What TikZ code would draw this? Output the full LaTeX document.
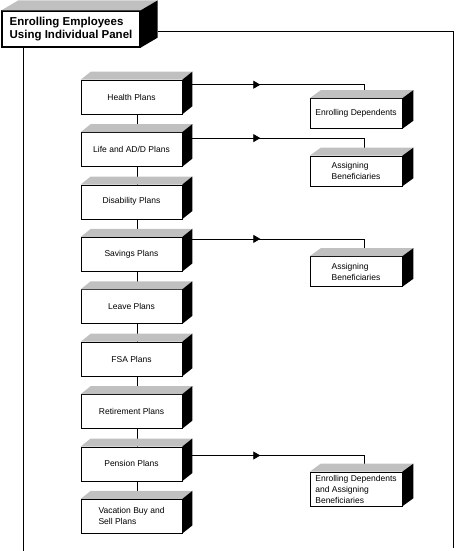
\documentclass[tikz,border=0pt]{standalone}
\usepackage{fontspec}
\setmainfont{Liberation Sans}
\usepackage{xcolor}
\usepackage{tikz}
\usetikzlibrary{calc,arrows.meta,decorations.markings,backgrounds}
\definecolor{topgray}{HTML}{C0C0C0}
\definecolor{sidegray}{HTML}{000000}

% gray top and black side of a box: node, depth x, depth y
\newcommand{\boxfaces}[3]{%
  \fill[topgray] (#1.north west) -- ([shift={(#2,-#3)}]#1.north west)
    -- ([shift={(#2,-#3)}]#1.north east) -- (#1.north east) -- cycle;
  \fill[sidegray] (#1.north east) -- ([shift={(#2,-#3)}]#1.north east)
    -- ([shift={(#2,-#3)}]#1.south east) -- (#1.south east) -- cycle;}

\tikzset{
  headbox/.style={draw,line width=1.3pt,fill=white,minimum width=138pt,minimum height=36pt,
    inner sep=0pt,align=left,font=\bfseries\fontsize{11.5}{13}\selectfont},
  plan/.style={draw,line width=0.6pt,fill=white,minimum width=101pt,minimum height=34pt,
    inner sep=0pt,align=left,font=\fontsize{8.5}{11}\selectfont},
  task/.style={plan,minimum width=92pt,minimum height=30pt},
  link/.style={line width=0.8pt},
  flowlink/.style={link,postaction={decorate},decoration={markings,
    mark=at position 68pt with {\arrow{Triangle[length=7pt,width=8pt]}}}}
}

\begin{document}
\begin{tikzpicture}[x=1pt,y=-1pt]
  \useasboundingbox (0,0) rectangle (455,551);

  % Panel box
  \node[headbox] (panel) at (71,29) {Enrolling Employees\\Using Individual Panel};
  \boxfaces{panel}{17}{10}

  % Plan boxes
  \node[plan] (health) at (131.5,97) {Health Plans};
  \node[plan] (life) at (131.5,149.4) {Life and AD/D Plans};
  \node[plan] (disability) at (131.5,201.8) {Disability Plans};
  \node[plan] (savings) at (131.5,254.2) {Savings Plans};
  \node[plan] (leave) at (131.5,306.6) {Leave Plans};
  \node[plan] (fsa) at (131.5,359) {FSA Plans};
  \node[plan] (retirement) at (131.5,411.4) {Retirement Plans};
  \node[plan] (pension) at (131.5,463.8) {Pension Plans};
  \node[plan] (vacation) at (131.5,516.2) {Vacation Buy and\\Sell Plans};
  \foreach \n in {health,life,disability,savings,leave,fsa,retirement,pension,vacation}
    {\boxfaces{\n}{10}{8}}

  % Task boxes
  \node[task] (dependents) at (356,113.5) {Enrolling Dependents};
  \node[task] (beneficiaries) at (356,171) {Assigning\\Beneficiaries};
  \node[task] (savingsben) at (356,271.5) {Assigning\\Beneficiaries};
  \node[task,minimum height=34pt] (pensionben) at (356,489) {Enrolling Dependents\\and Assigning\\Beneficiaries};
  \foreach \n in {dependents,beneficiaries,savingsben,pensionben}
    {\boxfaces{\n}{11}{8}}

  % Frame lines
  \coordinate (framefoot) at (453,548);
  \coordinate (railfoot) at (23,551);

  \begin{scope}[on background layer]
    \draw[link] ([shift={(17,2)}]panel.east) -| (framefoot);
    \draw[link] (railfoot |- panel.south) -- (railfoot);

    % Plan chain
    \foreach \a/\b in {health/life,life/disability,disability/savings,savings/leave,
      leave/fsa,fsa/retirement,retirement/pension,pension/vacation}
      {\draw[link] ([xshift=5.5pt]\a.south) -- ([xshift=5.5pt]\b.north);}

    % Plans to tasks
    \draw[flowlink] ([shift={(10,5)}]health.north east) -| ([shift={(8,-8)}]dependents.north);
    \draw[flowlink] ([shift={(10,6)}]life.north east) -| ([shift={(8,-8)}]beneficiaries.north);
    \draw[flowlink] ([shift={(10,2)}]savings.north east) -| ([shift={(8,-8)}]savingsben.north);
    \draw[flowlink] ([shift={(10,9)}]pension.north east) -| ([shift={(8,-8)}]pensionben.north);
  \end{scope}
\end{tikzpicture}
\end{document}
